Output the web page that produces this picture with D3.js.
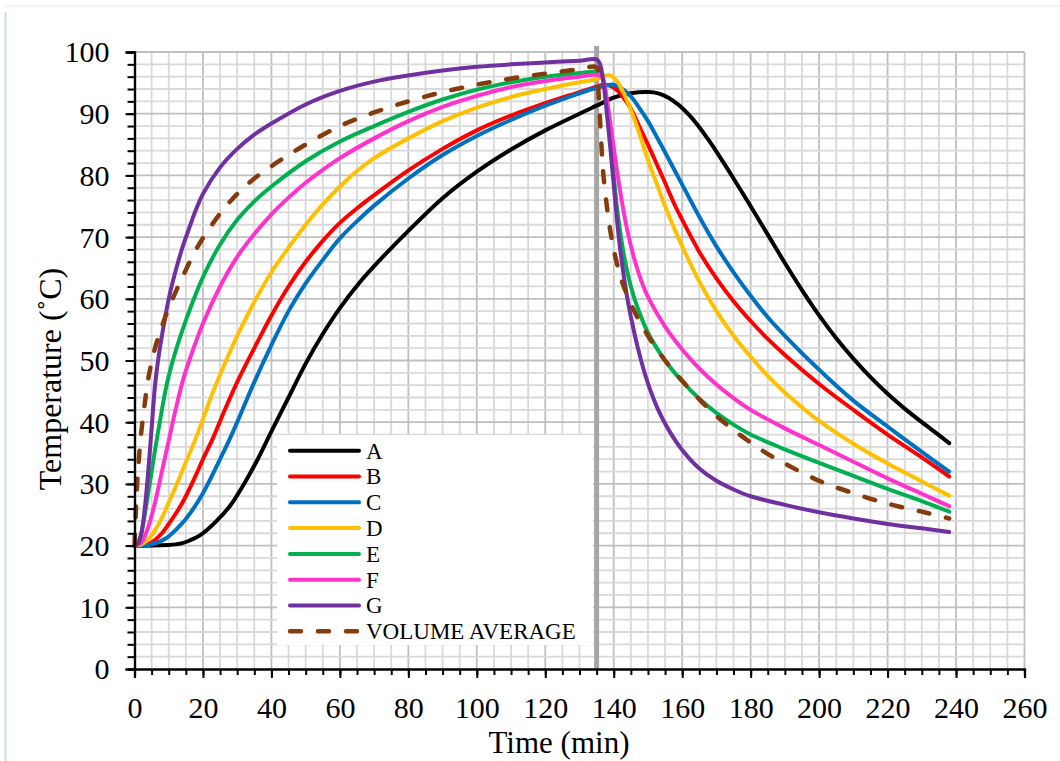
<!DOCTYPE html>
<html><head><meta charset="utf-8">
<script src="https://cdn.jsdelivr.net/npm/d3@7"></script>
<style>
body{margin:0;background:#fff}
svg{display:block}
text{font-family:"Liberation Serif","Times New Roman",serif;fill:#000}
</style></head>
<body><svg id="c" width="1060" height="761"></svg>
<script>
// ---------- data ----------
const seriesNames = ["A","B","C","D","E","F","G","VOLUME AVERAGE"];
const seriesColors = ["#000000","#ff0000","#0070c0","#ffc000","#00b050","#ff33cc","#7030a0","#843c0c"];

const timeA = [0,5,10,12,14,16,18,20,24,28,32,36,40,45,50,55,60,66,70,80,90,100,110,120,130,135,140,145,150,153,156,159,162,165,168,171,175,180,185,190,195,200,205,210,215,220,225,230,235,238];
const tempA = [20,20,20.1,20.2,20.4,20.8,21.3,22,24,26.5,30,34,38.5,44,49.5,54.3,58.5,62.8,65.3,71,76.3,80.6,84.2,87.3,90,91.3,92.6,93.3,93.5,93.3,92.6,91.4,89.8,87.8,85.5,83,79.5,75,70.4,65.8,61.4,57.3,53.6,50.3,47.3,44.6,42.2,40,37.9,36.6];

const timeB = [0,3,5,8,10,13,15,18,20,23,26,30,35,40,45,50,55,60,66,70,80,90,100,110,120,130,135,137,139,141,143,145,148,150,153,155,158,160,165,170,175,180,185,190,200,210,220,230,238];
const tempB = [20,20,20.5,22,23.5,26,28,31.5,34,37.5,41.5,46.5,52,57.3,62,66,69.4,72.3,75.1,76.8,80.8,84.3,87.3,89.7,91.7,93.5,94.4,94.7,94.5,93.8,92.5,90.8,87.3,85,81.3,78.8,75,72.8,67.6,63.3,59.6,56.4,53.5,50.9,46.2,42,38,34.3,31.2];

const timeC = [0,3,5,8,10,12,15,20,25,28,30,35,40,45,50,55,60,66,70,80,90,100,110,120,130,135,138,140,142,145,148,150,153,156,160,165,170,175,180,185,190,200,210,220,230,238];
const tempC = [20,20,20.2,20.8,21.5,22.5,24.3,28.5,34,37.5,40,46.5,52.5,58,62.5,66.3,69.8,73.1,75.1,79.5,83.3,86.4,89,91.3,93.3,94.2,94.6,94.7,94.2,92.8,90.5,88.8,85.8,82.7,78.5,73.3,68.5,64.3,60.5,57,54,48.5,43.5,39.3,35.2,32];

const timeD = [0,2,4,6,8,10,12,15,18,20,23,26,30,35,40,45,50,55,60,65,70,80,90,100,110,120,130,135,137,139,141,143,145,147,150,153,155,158,160,165,170,175,180,185,190,195,200,210,220,230,238];
const tempD = [20,20.2,21,22.5,24.5,27,29.5,33.5,37.5,40.5,45,49,54,59.5,64.3,68.3,72,75.3,78.2,80.7,82.8,86,88.8,91,92.7,94,95.1,95.6,96.1,96.2,95.2,93.2,90.6,87.6,82.5,78,75,71,68.5,62.8,58,54,50.6,47.5,44.8,42.4,40.2,36.5,33.3,30.4,28.1];

const timeE = [0,1,2,3,4,5,6,8,9,10,12,15,20,25,30,35,40,50,60,70,80,90,100,110,120,130,135,136,137,138,139,140,141,142,143,145,147,150,155,160,165,170,175,180,190,200,210,220,230,238];
const tempE = [20,20.5,22,25,28.5,32,35.5,42,45,47.5,51.5,56.5,63.5,68.8,72.8,75.8,78.2,82.3,85.5,88,90.3,92.3,93.9,95.1,96,96.6,96.9,97,95.5,91.5,86,80,74.5,70.5,67,62,58.5,54.5,50,46.6,43.8,41.5,39.6,38,35.6,33.4,31.3,29.2,27.2,25.5];

const timeF = [0,2,4,6,8,10,12,14,16,20,25,30,35,40,45,50,55,60,70,80,90,100,110,120,130,135,136.5,137.5,138.5,140,142,144,146,148,150,155,160,165,170,175,180,190,200,210,220,230,238];
const tempF = [20,20.5,23,27,32,37,42,46.5,50,56,62,66.8,70.5,73.7,76.4,78.8,80.9,82.8,86,88.8,91.1,92.9,94.3,95.3,96,96.3,96,94,90.5,84.5,77,71,66.5,63,60.3,55.5,51.8,48.7,46.1,43.9,42,39,36.3,33.6,30.9,28.4,26.4];

const timeG = [0,1,2,3,4,5,6,7,8,10,12,14,16,18,20,25,30,35,40,50,60,70,80,90,100,110,120,130,135,136,137,138,139,140,141,142,143,144,146,148,150,153,156,160,165,170,175,180,190,200,210,220,230,238];
const tempG = [20,20.3,22,26,32,39,46,50.5,54,60,64.5,68.3,71.5,74.5,77,81.3,84.3,86.6,88.4,91.5,93.7,95.2,96.2,97,97.6,98,98.3,98.6,98.8,98,95,90,84.5,78.5,72.5,67.5,63.5,60,54.5,50,46.3,42,38.8,35.5,32.5,30.5,29.1,28,26.6,25.4,24.4,23.5,22.8,22.2];

const timeVA = [0,0.5,1,2,3,4,6,8,10,14,18,22,26,30,35,40,45,50,60,70,80,90,100,110,120,130,135,135.5,136,136.5,137,138,139,140,142,144,146,150,155,160,165,170,177,184,190,200,210,220,230,238];
const tempVA = [20,27,32,38.5,43,47,52,55.5,58.5,63.5,68,71.5,74.5,77,79.5,81.5,83.3,85,88,90.2,92,93.5,94.7,95.7,96.5,97.2,97.5,94,89,84,80,75,71,68,63.5,60.5,58,54,50,46.7,43.7,41,37.9,35.2,33.3,30.5,28.5,26.8,25.5,24.4];

const xTicks = [0,20,40,60,80,100,120,140,160,180,200,220,240,260];
const yTicks = [0,10,20,30,40,50,60,70,80,90,100];
const switchTime = 135;

const seriesTimes = [timeA,timeB,timeC,timeD,timeE,timeF,timeG,timeVA];
const seriesTemps = [tempA,tempB,tempC,tempD,tempE,tempF,tempG,tempVA];

// ---------- drawing ----------
const svg = d3.select("#c");
const x = d3.scaleLinear().domain([0,260]).range([134.5,1024.5]);
const y = d3.scaleLinear().domain([0,100]).range([669,52]);

// page border hints
svg.append("line").attr("x1",5.5).attr("x2",5.5).attr("y1",12).attr("y2",761).attr("stroke","#c9daf0").attr("stroke-width",2);
svg.append("line").attr("x1",5).attr("x2",1060).attr("y1",6).attr("y2",6).attr("stroke","#eef0f3").attr("stroke-width",1.5);

const grid = svg.append("g");
d3.range(5,261,5).forEach(v=>{
  grid.append("line").attr("x1",x(v)).attr("x2",x(v)).attr("y1",y(0)).attr("y2",y(100))
    .attr("stroke", v%20===0 ? "#bfbfbf" : "#d9d9d9").attr("stroke-width",1.8);
});
d3.range(2,101,2).forEach(v=>{
  grid.append("line").attr("x1",x(0)).attr("x2",x(260)).attr("y1",y(v)).attr("y2",y(v))
    .attr("stroke", v%10===0 ? "#bfbfbf" : "#d9d9d9").attr("stroke-width",1.8);
});

// switch line
svg.append("line").attr("x1",x(switchTime)).attr("x2",x(switchTime)).attr("y1",y(100)-6).attr("y2",y(0))
  .attr("stroke","#a6a6a6").attr("stroke-width",5);

// curves
const line = d3.line().x(d=>x(d[0])).y(d=>y(d[1])).curve(d3.curveCatmullRom.alpha(0.5));
seriesNames.forEach((n,i)=>{
  const pts = seriesTimes[i].map((t,j)=>[t,seriesTemps[i][j]]);
  const p = svg.append("path").datum(pts).attr("d",line).attr("fill","none")
    .attr("stroke",seriesColors[i]).attr("stroke-linecap","round").attr("stroke-linejoin","round");
  if (n==="VOLUME AVERAGE") p.attr("stroke-width",4.5).attr("stroke-dasharray","11,17");
  else p.attr("stroke-width",4);
});

// axes
const fs = 30;
const yMinor = svg.append("g").attr("transform",`translate(${x(0)},0)`)
  .call(d3.axisLeft(y).tickValues(d3.range(0,101,2)).tickSize(7).tickFormat(""));
const yMajor = svg.append("g").attr("transform",`translate(${x(0)},0)`)
  .call(d3.axisLeft(y).tickValues(yTicks).tickSize(9));
yMajor.selectAll("text").attr("x",-25).attr("dy","0.33em").style("font-size",fs+"px");
const xMinor = svg.append("g").attr("transform",`translate(0,${y(0)})`)
  .call(d3.axisBottom(x).tickValues(d3.range(0,261,5)).tickSize(6).tickFormat(""));
const xMajor = svg.append("g").attr("transform",`translate(0,${y(0)})`)
  .call(d3.axisBottom(x).tickValues(xTicks).tickSize(9));
xMajor.selectAll("text").attr("y",49).attr("dy",0).style("font-size",fs+"px");
[yMinor,yMajor,xMinor,xMajor].forEach(g=>{
  g.selectAll("path.domain").attr("stroke","#000").attr("stroke-width",2.2);
  g.selectAll(".tick line").attr("stroke","#000").attr("stroke-width",2);
  g.attr("font-family",null);
});

// axis titles
svg.append("text").attr("x",559).attr("y",753).attr("text-anchor","middle")
  .style("font-size","31px").text("Time (min)");
svg.append("text").attr("transform","translate(61,379) rotate(-90)").attr("text-anchor","middle")
  .style("font-size","32px").text("Temperature (˚C)");

// legend
const lg = svg.append("g");
lg.append("rect").attr("x",277).attr("y",435).attr("width",316).attr("height",210).attr("fill","#fff");
seriesNames.forEach((n,i)=>{
  const ly = 450.7 + i*25.8;
  const l = lg.append("line").attr("x1",290).attr("x2",359).attr("y1",ly).attr("y2",ly)
    .attr("stroke",seriesColors[i]).attr("stroke-linecap","round");
  if (n==="VOLUME AVERAGE") l.attr("stroke-width",4.5).attr("stroke-dasharray","11,17");
  else l.attr("stroke-width",4);
  lg.append("text").attr("x",366).attr("y",ly+7.8).style("font-size","23px").text(n);
});
</script></body></html>
